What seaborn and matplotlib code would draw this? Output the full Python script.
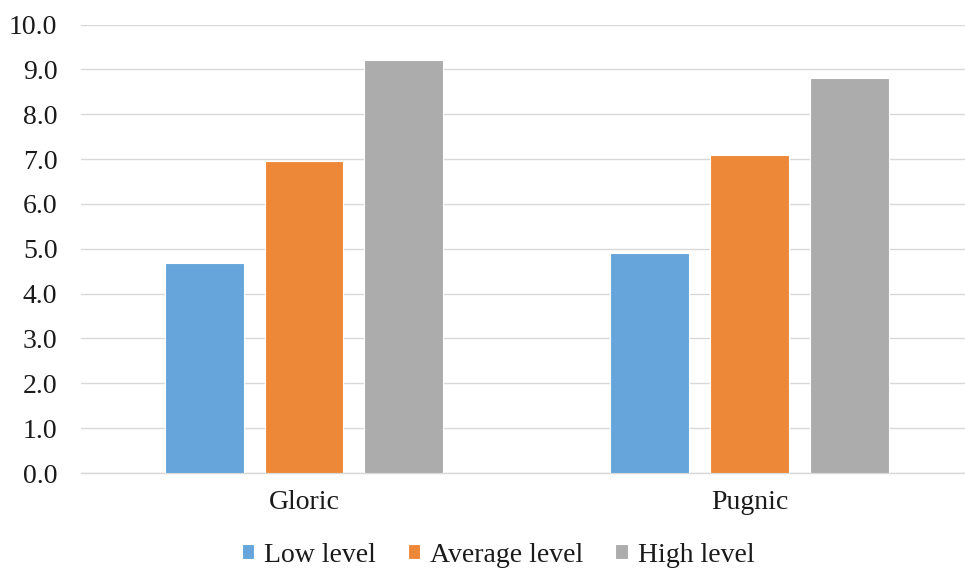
import matplotlib
matplotlib.use("Agg")
import matplotlib.pyplot as plt
import seaborn as sns
import pandas as pd

# chart values
categories = ["Gloric", "Pugnic"]
levels = ["Low level", "Average level", "High level"]
low_level = [4.68, 4.91]
average_level = [6.96, 7.10]
high_level = [9.22, 8.82]
y_ticks = [0, 1, 2, 3, 4, 5, 6, 7, 8, 9, 10]

# long table for seaborn
rows = []
for _lvl, _vals in zip(levels, [low_level, average_level, high_level]):
    for _cat, _v in zip(categories, _vals):
        rows.append({"category": _cat, "level": _lvl, "value": _v})
df = pd.DataFrame(rows)

sns.set_style("white")
plt.rcParams["font.family"] = ["Liberation Serif", "DejaVu Serif"]

palette = ["#66A5DB", "#EE8839", "#ACACAC"]

fig = plt.figure(figsize=(9.65, 5.73), dpi=100)
ax = fig.add_axes([0.084, 0.1745, 0.924, 0.7825])

sns.barplot(
    data=df,
    x="category",
    y="value",
    hue="level",
    hue_order=levels,
    order=categories,
    palette=palette,
    saturation=1,
    width=0.672,
    gap=0.21,
    edgecolor="white",
    linewidth=0.8,
    ax=ax,
    zorder=3,
)

# axes cosmetics
ax.set_xlim(-0.5, 1.5)
ax.set_ylim(0, 10)
ax.set_yticks(y_ticks)
ax.set_yticklabels([f"{t:.1f}" for t in y_ticks])
ax.yaxis.grid(True, color="#D9D9D9", linewidth=1.0, zorder=0)
ax.set_axisbelow(True)
for _s in ["top", "right", "left"]:
    ax.spines[_s].set_visible(False)
ax.spines["bottom"].set_color("#D9D9D9")
ax.spines["bottom"].set_linewidth(1.0)
ax.tick_params(axis="y", length=0, pad=17, labelsize=20, labelcolor="#1a1a1a")
ax.tick_params(axis="x", length=0, pad=12, labelsize=20, labelcolor="#1a1a1a")
ax.set_xlabel("")
ax.set_ylabel("")

# legend below
handles, labels = ax.get_legend_handles_labels()
ax.get_legend().remove()
fig.legend(
    handles,
    labels,
    loc="center",
    bbox_to_anchor=(498 / 965, 1 - 555 / 573),
    ncol=3,
    frameon=False,
    fontsize=20,
    handlelength=0.45,
    handleheight=0.45,
    handletextpad=0.35,
    columnspacing=1.15,
)
for _t in fig.legends[0].get_texts():
    _t.set_color("#1a1a1a")

plt.savefig("out.png", dpi=100)
